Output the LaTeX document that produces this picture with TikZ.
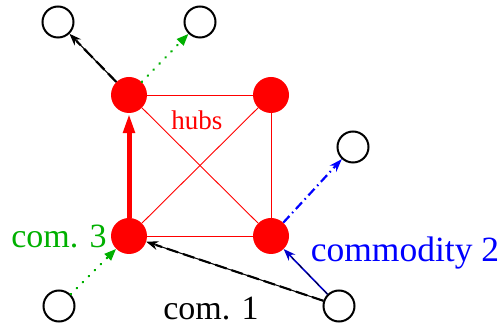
\documentclass[tikz,border=0pt]{standalone}
\usepackage{fontspec}
\setmainfont{Liberation Serif}
\usetikzlibrary{arrows.meta}
\definecolor{figgreen}{RGB}{0,176,0}
\begin{document}
\begin{tikzpicture}[x=1pt,y=-1pt,
  hub/.style={circle,fill=red,minimum size=36pt,inner sep=0pt},
  term/.style={circle,draw=black,line width=2pt,minimum size=31pt,inner sep=0pt},
  edge/.style={red,line width=0.9pt},
  blacktip/.style={-{Stealth[length=12pt,width=9pt]}},
  blackarr/.style={black,line width=1.1pt,blacktip},
  blackdash/.style={black,line width=2.2pt,dash pattern=on 12pt off 5pt,shorten >=10pt},
  greenarr/.style={figgreen,line width=2.4pt,line cap=round,dash pattern=on 0.5pt off 8pt,-{Triangle[length=12pt,width=9pt]}},
  bluearr/.style={blue,line width=2.2pt,dash pattern=on 9pt off 4pt on 1.5pt off 4pt,-{Stealth[length=13pt,width=9pt]}},
  bluesolid/.style={blue!80!black,line width=1.6pt,-{Stealth[length=12pt,width=9pt]}},
  redarr/.style={red,line width=5pt,-{Triangle[length=20pt,width=11pt]}},
  lab/.style={anchor=base,font=\fontsize{34}{40}\selectfont}
]
\useasboundingbox (0,0) rectangle (501,328);
% hubs
\node[hub] (h1) at (129,95) {};
\node[hub] (h2) at (271,95) {};
\node[hub] (h3) at (129,236) {};
\node[hub] (h4) at (271,236) {};
% terminals
\node[term] (t1) at (58,22) {};
\node[term] (t2) at (200,22) {};
\node[term] (t3) at (353,147) {};
\node[term] (t4) at (59,306) {};
\node[term] (t5) at (339,306) {};
% hub edges
\draw[edge] (h1) -- (h2);
\draw[edge] (h2) -- (h4);
\draw[edge] (h4) -- (h3);
\draw[edge] (h1) -- (h4);
\draw[edge] (h2) -- (h3);
% red path
\draw[redarr] (h3) -- (h1);
% commodity 1
\draw[blackarr] (t5) -- (h3);
\draw[blackdash] (t5) -- (h3);
\draw[blackarr] (h1) -- (t1);
\draw[blackdash] (h1) -- (t1);
% commodity 3
\draw[greenarr] (t4) -- (h3);
\draw[greenarr] (h1) -- (t2);
% commodity 2
\draw[bluesolid] (t5) -- (h4);
\draw[black,line width=0.6pt,dash pattern=on 6pt off 6pt,shorten >=12pt] (t5) -- (h4);
\draw[bluearr] (h4) -- (t3);
% labels
\node[lab,text=figgreen] (l3) at (59,248) {com. 3};
\node[lab,text=black] (l1) at (211,320) {com. 1};
\node[anchor=base,font=\fontsize{35.5}{42}\selectfont,text=blue] (l2) at (405,262) {commodity 2};
\node[anchor=base,font=\fontsize{27}{32}\selectfont,text=red] (lh) at (197,130) {hubs};
\end{tikzpicture}
\end{document}
